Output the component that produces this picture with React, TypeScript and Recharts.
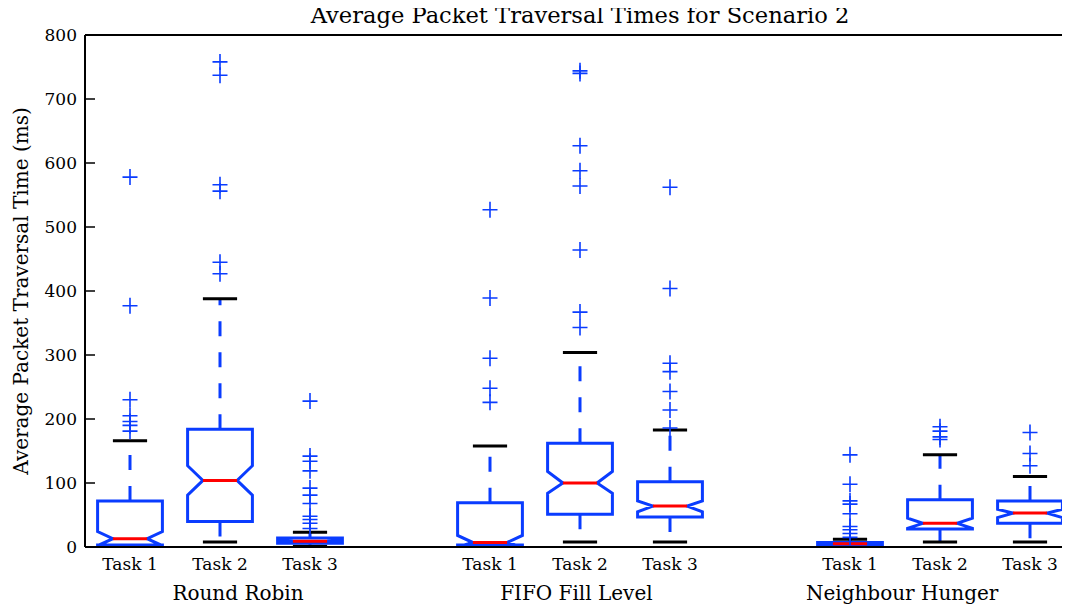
import { ComposedChart, Line, Scatter, XAxis, YAxis, ReferenceLine } from 'recharts'

// layout of the boxes along x (4 and 8 are the gaps between the groups)
const positions = [1, 2, 3, 5, 6, 7, 9, 10, 11]
const taskNames = ['Task 1', 'Task 2', 'Task 3']
const groupNames = ['Round Robin', 'FIFO Fill Level', 'Neighbour Hunger']
const groupLabelAt = [2.2, 5.96, 9.58]
const yTicks = [0, 100, 200, 300, 400, 500, 600, 700, 800]

// box statistics (ms)
const whiskerLow = [1, 8, 1, 1, 8, 8, 0, 8, 8]
const q1 = [3, 40, 6, 3, 51, 47, 2, 28, 37]
const notchLow = [2, 81, 8, 0, 84, 55, 4, 29, 46]
const median = [13, 104, 9, 7, 100, 64, 5, 37, 53]
const notchHigh = [24, 127, 10, 18, 118, 72, 6, 45, 59]
const q3 = [72, 184, 14, 69, 162, 102, 7, 74, 72]
const whiskerHigh = [166, 388, 23, 158, 304, 183, 12, 144, 110]

const rrTask1Out = [578, 377, 230, 205, 196, 190, 181]
const rrTask2Out = [758, 737, 566, 556, 445, 427]
const rrTask3Out = [228, 142, 134, 119, 92, 81, 68, 48, 43, 37, 29]
const fifoTask1Out = [527, 389, 295, 248, 226]
const fifoTask2Out = [744, 740, 627, 588, 564, 464, 367, 343]
const fifoTask3Out = [562, 404, 287, 274, 243, 214, 186]
const nhTask1Out = [144, 98, 72, 67, 52, 32, 27, 21, 15]
const nhTask2Out = [188, 181, 172, 168]
const nhTask3Out = [179, 146, 127]
const outliers = [rrTask1Out, rrTask2Out, rrTask3Out, fifoTask1Out, fifoTask2Out, fifoTask3Out, nhTask1Out, nhTask2Out, nhTask3Out]

const BLUE = '#0a3cff'
const FONT = 'DejaVu Serif'
const BOX_HALF = 0.36
const NOTCH_HALF = 0.19
const CAP_HALF = 0.19

type Pt = { x: number; y: number | null }

const boxPts: Pt[] = []
const medianPts: Pt[] = []
const capPts: Pt[] = []
const whiskerPts: Pt[] = []
const outlierPts: { x: number; y: number }[] = []

positions.forEach((p, i) => {
  const L = p - BOX_HALF
  const R = p + BOX_HALF
  boxPts.push(
    { x: L, y: q1[i] }, { x: L, y: notchLow[i] }, { x: p - NOTCH_HALF, y: median[i] },
    { x: L, y: notchHigh[i] }, { x: L, y: q3[i] }, { x: R, y: q3[i] },
    { x: R, y: notchHigh[i] }, { x: p + NOTCH_HALF, y: median[i] }, { x: R, y: notchLow[i] },
    { x: R, y: q1[i] }, { x: L, y: q1[i] }, { x: L, y: null }
  )
  medianPts.push({ x: p - NOTCH_HALF, y: median[i] }, { x: p + NOTCH_HALF, y: median[i] }, { x: p, y: null })
  capPts.push(
    { x: p - CAP_HALF, y: whiskerLow[i] }, { x: p + CAP_HALF, y: whiskerLow[i] }, { x: p, y: null },
    { x: p - CAP_HALF, y: whiskerHigh[i] }, { x: p + CAP_HALF, y: whiskerHigh[i] }, { x: p, y: null }
  )
  whiskerPts.push(
    { x: p, y: q3[i] }, { x: p, y: whiskerHigh[i] }, { x: p, y: null },
    { x: p, y: q1[i] }, { x: p, y: whiskerLow[i] }, { x: p, y: null }
  )
  outliers[i].forEach(v => outlierPts.push({ x: p, y: v }))
})

// empty anchors so the group-label axis has a series attached
const groupAnchors = groupLabelAt.map(x => ({ x, y: null }))

const Plus = (props: any) => {
  const { cx, cy } = props
  return <path d={`M${cx - 7.5},${cy}h15M${cx},${cy - 8}v16`} stroke={BLUE} strokeWidth={1.6} fill="none" />
}

const LeftTick = (props: any) => {
  const { x, y, payload } = props
  return (
    <g>
      <line x1={x + 8} x2={x + 18} y1={y} y2={y} stroke="#000" strokeWidth={1.5} />
      <text x={x} y={y} textAnchor="end" dominantBaseline="central" fontFamily={FONT} fontSize={17} fill="#000">
        {payload.value}
      </text>
    </g>
  )
}

const RightTick = (props: any) => {
  const { x, y } = props
  return <line x1={x - 10} x2={x} y1={y} y2={y} stroke="#000" strokeWidth={1.5} />
}

const taskLabel = (v: number) => taskNames[positions.indexOf(v) % 3] ?? ''
const groupLabel = (v: number) => groupNames[groupLabelAt.indexOf(v)] ?? ''

export default function App() {
  return (
    <div style={{ width: 1070, height: 613, overflow: 'hidden', margin: -8, position: 'relative' }}>
      <div style={{
        position: 'absolute', left: 0, width: 1160, top: 2, textAlign: 'center',
        fontFamily: FONT, fontSize: 22.6, lineHeight: 'normal', color: '#000'
      }}>
        Average Packet Traversal Times for Scenario 2
      </div>
      <ComposedChart width={1080} height={613} margin={{ top: 35, right: 0, left: 0, bottom: 0 }}>
        <XAxis
          dataKey="x" type="number" domain={[0.5, 11.5]} ticks={positions} interval={0}
          allowDataOverflow tickFormatter={taskLabel} tickLine={false} tickSize={0} tickMargin={11}
          axisLine={{ stroke: '#000', strokeWidth: 2 }} height={35}
          tick={{ fill: '#000', fontSize: 17, fontFamily: FONT }}
        />
        <XAxis
          xAxisId="g" dataKey="x" type="number" domain={[0.5, 11.5]} ticks={groupLabelAt} interval={0}
          allowDataOverflow tickFormatter={groupLabel} tickLine={false} axisLine={false}
          tickSize={0} tickMargin={4} height={31}
          tick={{ fill: '#000', fontSize: 20, fontFamily: FONT }}
        />
        <YAxis
          type="number" domain={[0, 800]} ticks={yTicks} interval={0} allowDataOverflow width={85}
          tickLine={false} tickSize={0} tickMargin={8} tick={<LeftTick />}
          axisLine={{ stroke: '#000', strokeWidth: 2 }}
          label={{
            content: ({ viewBox }: any) => (
              <text
                x={21} y={viewBox.y + viewBox.height / 2} transform={`rotate(-90 21 ${viewBox.y + viewBox.height / 2})`}
                textAnchor="middle" dominantBaseline="central" fontFamily={FONT} fontSize={20} fill="#000"
              >
                Average Packet Traversal Time (ms)
              </text>
            )
          }}
        />
        <YAxis
          yAxisId="r" orientation="right" type="number" domain={[0, 800]} ticks={yTicks} interval={0}
          allowDataOverflow width={5} tickLine={false} tickSize={0} tickMargin={0} tick={<RightTick />}
          axisLine={{ stroke: '#000', strokeWidth: 2 }}
        />
        <ReferenceLine y={800} stroke="#000" strokeWidth={2} />
        <Line xAxisId="g" yAxisId="r" data={groupAnchors} dataKey="y" stroke="none" dot={false}
          activeDot={false} isAnimationActive={false} />
        <Line data={whiskerPts} dataKey="y" stroke={BLUE} strokeWidth={3} strokeDasharray="15 16"
          dot={false} activeDot={false} isAnimationActive={false} type="linear" />
        <Line data={capPts} dataKey="y" stroke="#000" strokeWidth={3}
          dot={false} activeDot={false} isAnimationActive={false} type="linear" />
        <Line data={boxPts} dataKey="y" stroke={BLUE} strokeWidth={3} strokeLinecap="square"
          dot={false} activeDot={false} isAnimationActive={false} type="linear" />
        <Line data={medianPts} dataKey="y" stroke="#ff0000" strokeWidth={3}
          dot={false} activeDot={false} isAnimationActive={false} type="linear" />
        <Scatter data={outlierPts} dataKey="y" shape={<Plus />} isAnimationActive={false} />
      </ComposedChart>
    </div>
  )
}
